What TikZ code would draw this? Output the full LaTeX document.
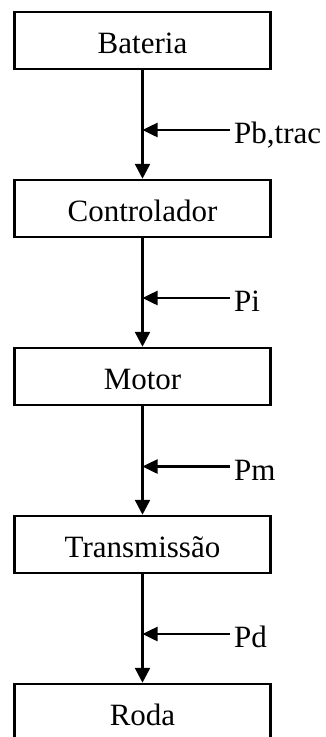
\documentclass[tikz,border=0pt]{standalone}
\usepackage{fontspec}
\setmainfont{Liberation Serif}
\usetikzlibrary{arrows.meta}
\begin{document}
\begin{tikzpicture}[x=1pt,y=1pt,
  blk/.style={draw=black, line width=2.5pt, minimum width=256pt, minimum height=57pt,
    inner sep=0pt, text height=25pt, text depth=0pt,
    font=\fontsize{31}{37}\selectfont},
  lbl/.style={anchor=base west, inner sep=0pt, font=\fontsize{31}{37}\selectfont},
  flow/.style={line width=2.5pt, -{Triangle[length=15pt,width=15pt]}},
  feed/.style={line width=2.5pt, -{Triangle[length=15pt,width=14pt]}}]
\useasboundingbox (0,0) rectangle (325,-737);
\node[blk] (bat) at (142.5,-40.5) {Bateria};
\node[blk] (ctl) at (142.5,-208.5) {Controlador};
\node[blk] (mot) at (142.5,-376.5) {Motor};
\node[blk] (trn) at (142.5,-544.5) {Transmissão};
\node[blk] (rod) at (142.5,-712.5) {Roda};
\draw[flow] (bat) -- (ctl);
\draw[flow] (ctl) -- (mot);
\draw[flow] (mot) -- (trn);
\draw[flow] (trn) -- (rod);
% feed-in arrows
\coordinate (j1) at (142.5,-130);
\coordinate (j2) at (142.5,-298);
\coordinate (j3) at (142.5,-466.5);
\coordinate (j4) at (142.5,-634);
\node[lbl] (l1) at (234,-143.5) {Pb,trac};
\node[lbl] (l2) at (234,-311.5) {Pi};
\node[lbl] (l3) at (234,-480) {Pm};
\node[lbl] (l4) at (234,-647.5) {Pd};
\draw[feed] (230,-130) -- (j1);
\draw[feed] (230,-298) -- (j2);
\draw[feed] (230,-466.5) -- (j3);
\draw[feed] (230,-634) -- (j4);
\end{tikzpicture}
\end{document}
